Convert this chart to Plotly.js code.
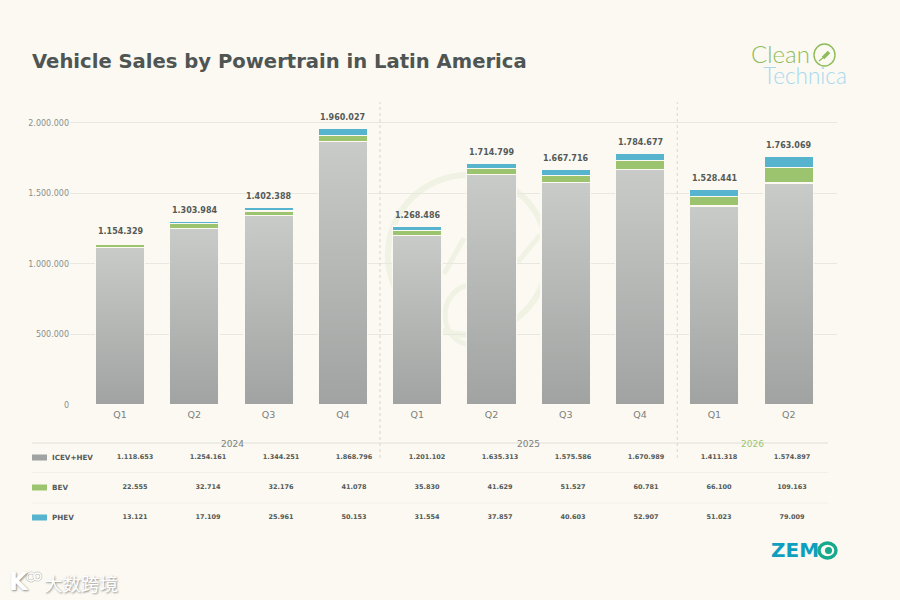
<!DOCTYPE html>
<html>
<head>
<meta charset="utf-8">
<script src="https://cdn.plot.ly/plotly-3.0.1.min.js"></script>
<style>
  html, body { margin: 0; padding: 0; background: #fbf9f2; }
  #chart { width: 900px; height: 600px; }
</style>
</head>
<body>
<div id="chart"></div>
<script>
const quarters = ["Q1", "Q2", "Q3", "Q4", "Q1", "Q2", "Q3", "Q4", "Q1", "Q2"];
const icev = [1118653, 1254161, 1344251, 1868796, 1201102, 1635313, 1575586, 1670989, 1411318, 1574897];
const bev = [22555, 32714, 32176, 41078, 35830, 41629, 51527, 60781, 66100, 109163];
const phev = [13121, 17109, 25961, 50153, 31554, 37857, 40603, 52907, 51023, 79009];
const totals = [1154329, 1303984, 1402388, 1960027, 1268486, 1714799, 1667716, 1784677, 1528441, 1763069];
const seriesNames = ["ICEV+HEV", "BEV", "PHEV"];
const yTicks = [0, 500000, 1000000, 1500000, 2000000];

const FONT = "DejaVu Sans, sans-serif";
const BG = "#fbf9f2";
const GREEN = "#9cc46f";
const BLUE = "#56b4cf";
const FAINT = "#f0f2e4";
const idx = quarters.map((q, i) => i);
const fmt = n => String(n).replace(/\B(?=(\d{3})+$)/g, ".");

// helpers, page pixels to paper coordinates
const px = x => x / 900;
const py = y => 1 - y / 600;

function note(text, x, y, size, color, extra) {
  return Object.assign({
    text: text, xref: "paper", yref: "paper", x: px(x), y: py(y),
    showarrow: false, xanchor: "center", yanchor: "middle",
    font: { family: FONT, size: size, color: color }
  }, extra || {});
}
function box(type, x0, y0, x1, y1, extra) {
  return Object.assign({
    type: type, xref: "paper", yref: "paper",
    x0: px(x0), x1: px(x1), y0: py(y0), y1: py(y1)
  }, extra);
}
function hline(y, x0, x1, color, width) {
  return box("line", x0, y, x1, y, { line: { color: color, width: width }, layer: "below" });
}
function vsep(x) {
  return { type: "line", xref: "x", yref: "paper", x0: x, x1: x, y0: py(458), y1: py(102),
    line: { color: "#d6d8d0", width: 1, dash: "dot" } };
}

// Stacked bars
function barTrace(name, values, color) {
  return {
    type: "bar", name: name, x: idx, y: values, width: 0.665,
    marker: { color: color, line: { color: BG, width: 1.3 } },
    hoverinfo: "skip"
  };
}
const traces = [
  barTrace(seriesNames[0], icev, "#b4b7b5"),
  barTrace(seriesNames[1], bev, GREEN),
  barTrace(seriesNames[2], phev, BLUE)
];

// Table under the chart, on its own hidden axes
[icev, bev, phev].forEach((values, row) => {
  traces.push({
    type: "scatter", mode: "text", xaxis: "x2", yaxis: "y2",
    x: idx, y: values.map(() => row), text: values.map(fmt),
    textfont: { family: FONT, size: 6.5, color: "#555a57", weight: 700 },
    hoverinfo: "skip", showlegend: false
  });
});

const totalLabels = totals.map((t, i) => ({
  text: fmt(t), x: i, y: t, xref: "x", yref: "y", yshift: 11, showarrow: false,
  font: { family: FONT, size: 8, color: "#555a57", weight: 700 }
}));

const swatchColors = ["#a0a3a1", GREEN, BLUE];
const rowY = [457, 487, 517];

const layout = {
  width: 900, height: 600,
  margin: { l: 0, r: 0, t: 0, b: 0 },
  paper_bgcolor: BG, plot_bgcolor: "rgba(0,0,0,0)",
  barmode: "stack", showlegend: false, separators: ",.",
  xaxis: {
    domain: [px(70), px(837)], range: [-0.673, 9.65],
    tickmode: "array", tickvals: idx, ticktext: quarters,
    tickfont: { family: FONT, size: 9.5, color: "#7c7f7c" },
    ticklabelstandoff: 2,
    showgrid: false, zeroline: false, showline: false, ticks: "", ticklen: 0
  },
  yaxis: {
    domain: [py(405), py(100)], range: [0, 2163000],
    tickmode: "array", tickvals: yTicks, tickformat: ",d",
    tickfont: { family: FONT, size: 8, color: "#8c8f8c" },
    gridcolor: "#e8e8e1", gridwidth: 1, zeroline: false, showline: false, ticks: ""
  },
  xaxis2: { domain: [0, 1], range: [-135 / 73, 765 / 73], visible: false, anchor: "y2", fixedrange: true },
  yaxis2: { domain: [0, 1], range: [143 / 30, -457 / 30], visible: false, anchor: "x2", fixedrange: true },
  shapes: [
    // faint logo behind the bars
    box("circle", 388, 175, 548, 335, { line: { color: FAINT, width: 6 }, layer: "below" }),
    box("circle", 445, 285, 500, 345, { line: { color: FAINT, width: 5 }, layer: "below" }),
    box("line", 444, 274, 464, 238, { line: { color: FAINT, width: 5 }, layer: "below" }),
    box("line", 518, 262, 540, 235, { line: { color: FAINT, width: 5 }, layer: "below" }),
    hline(443, 32, 828, "#e9e9e2", 1.4),
    hline(472.5, 32, 828, "#f0efe8", 1),
    hline(503, 32, 828, "#f0efe8", 1),
    vsep(3.5), vsep(7.5),
    // CleanTechnica plug ring
    box("circle", 814, 44, 835, 66, { line: { color: "#8fbc5a", width: 1.4 } }),
    box("line", 819, 61, 824, 57, { line: { color: "#8fbc5a", width: 1.2 } }),
    box("line", 823, 58, 829, 52, { line: { color: "#8fbc5a", width: 3.6 } }),
    // ZEMO ring
    box("circle", 819, 543, 836, 558, { line: { color: "#16a98c", width: 3.4 }, fillcolor: BG }),
    box("circle", 825, 547, 832, 554, { line: { width: 0 }, fillcolor: "#16a98c" }),
    // watermark mark
    box("circle", 27, 573, 35, 581, { line: { color: "#c6c6c1", width: 2.8 } }),
    box("circle", 34, 573, 41, 580, { line: { color: "#c6c6c1", width: 2.8 } }),
    box("circle", 27, 573, 35, 581, { line: { color: "#ffffff", width: 1.4 } }),
    box("circle", 34, 573, 41, 580, { line: { color: "#ffffff", width: 1.4 } })
  ].concat(swatchColors.map((c, i) =>
    box("rect", 32, rowY[i] - 2.5, 47, rowY[i] + 3.5, { fillcolor: c, line: { width: 0 } })
  )),
  annotations: totalLabels.concat(
    seriesNames.map((n, i) => note(n, 50, rowY[i], 7, "#555a57", { xanchor: "left", font: { family: FONT, size: 7.2, color: "#555a57", weight: 700 } })),
    [
      note("Vehicle Sales by Powertrain in Latin America", 30, 62, 19.6, "#4f5552", { xanchor: "left", font: { family: FONT, size: 19.6, color: "#4f5552", weight: 700 } }),
      note("2024", 232, 443.5, 9, "#7c7f7c"),
      note("2025", 528, 443.5, 9, "#7c7f7c"),
      note("2026", 752, 443.5, 9, GREEN),
      note("Clean", 780, 53, 24, "#8fbc5a", { font: { family: "Lato, sans-serif", size: 24, color: "#8fbc5a", weight: 300 } }),
      note("Technica", 805, 75, 22.5, "#a9d8ee", { font: { family: "Lato, sans-serif", size: 22.5, color: "#a9d8ee", weight: 300 } }),
      note("ZEM", 795, 550, 20, "#0f9fbe", { font: { family: FONT, size: 20, color: "#0f9fbe", weight: 700 } }),
      note("K", 19, 582, 24, "#ffffff", { font: { family: FONT, size: 24, color: "#ffffff", weight: 700, shadow: "1px 1px 2px #8f8f8b" } }),
      note("大数跨境", 81, 582.5, 18.5, "#ffffff", { font: { family: "Noto Sans CJK SC", size: 18.5, color: "#ffffff", shadow: "1px 1px 2px #8f8f8b" } })
    ]
  )
};

Plotly.newPlot("chart", traces, layout, { displayModeBar: false, staticPlot: true }).then(gd => {
  // Plotly bars have no gradient option, so put one on the grey series
  const svg = gd.querySelector("svg.main-svg");
  const ns = "http://www.w3.org/2000/svg";
  const grad = document.createElementNS(ns, "linearGradient");
  grad.setAttribute("id", "greyFade");
  grad.setAttribute("x1", "0"); grad.setAttribute("y1", "0");
  grad.setAttribute("x2", "0"); grad.setAttribute("y2", "1");
  [["0", "#c9cbc9"], ["1", "#a0a3a1"]].forEach(s => {
    const stop = document.createElementNS(ns, "stop");
    stop.setAttribute("offset", s[0]);
    stop.setAttribute("stop-color", s[1]);
    grad.appendChild(stop);
  });
  svg.querySelector("defs").appendChild(grad);
  gd.querySelectorAll(".barlayer .trace")[0].querySelectorAll("path").forEach(p => {
    p.style.fill = "url(#greyFade)";
  });
});
</script>
</body>
</html>
